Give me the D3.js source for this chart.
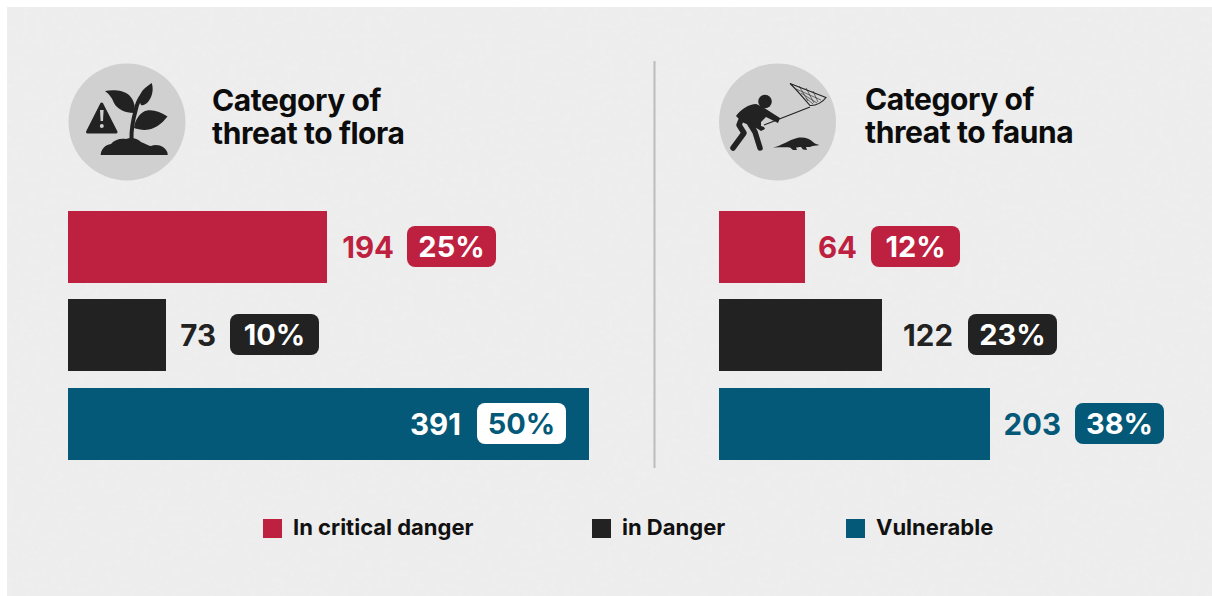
<!DOCTYPE html>
<html><head><meta charset="utf-8">
<script src="https://cdnjs.cloudflare.com/ajax/libs/d3/7.8.5/d3.min.js"></script>
<style>html,body{margin:0;padding:0;background:#fff}svg{display:block}
text{font-family:Inter,"Liberation Sans",sans-serif;font-weight:700}</style></head>
<body><div id="chart"></div>
<script>
const categories=["In critical danger","in Danger","Vulnerable"];
const floraValues=[194,73,391];
const floraPercent=["25%","10%","50%"];
const faunaValues=[64,122,203];
const faunaPercent=["12%","23%","38%"];
const colors=["#BE2140","#222222","#045878"];
const titles=[["Category of","threat to flora"],["Category of","threat to fauna"]];

const W=1212,H=596;
const svg=d3.select("#chart").append("svg").attr("width",W).attr("height",H);
const defs=svg.append("defs");
const f=defs.append("filter").attr("id","speck").attr("x",0).attr("y",0).attr("width","100%").attr("height","100%");
f.append("feTurbulence").attr("type","fractalNoise").attr("baseFrequency","0.14 0.18").attr("numOctaves",2).attr("seed",7);
f.append("feColorMatrix").attr("values","0 0 0 0 0.875  0 0 0 0 0.875  0 0 0 0 0.875  4 9 0 0 -7.0");
svg.append("rect").attr("x",7).attr("y",7).attr("width",W-7).attr("height",H-7).attr("fill","#ededed");
svg.append("rect").attr("x",7).attr("y",7).attr("width",W-7).attr("height",H-7).attr("filter","url(#speck)").attr("opacity",.55);

const x=d3.scaleLinear().domain([0,391]).range([0,521]);
const y=d3.scaleBand().domain(categories).range([211,460]).paddingInner(16.5/88.5).paddingOuter(0);

const panels=[
 {x0:68,values:floraValues,pct:floraPercent,cx:127,tx:212,ends:[67,50,-128],badge:[80,64,-112],ty:[111,144]},
 {x0:719,values:faunaValues,pct:faunaPercent,cx:777.5,tx:865,ends:[52,71,71],badge:[66,86,85],ty:[110,143]}
];
panels.forEach((p,pi)=>{
 const g=svg.append("g");
 g.append("circle").attr("cx",p.cx).attr("cy",122).attr("r",58.5).attr("fill","#d0d0d0");
 g.selectAll(".t").data(titles[pi]).join("text").attr("x",p.tx).attr("y",(d,i)=>p.ty[i])
  .attr("font-size",30).attr("letter-spacing",-.42).attr("fill","#0c0c0c").text(d=>d);
 categories.forEach((c,i)=>{
  const v=p.values[i],w=Math.ceil(x(v)),end=p.x0+w;
  const top=Math.floor(y(c));
  g.append("rect").attr("x",p.x0).attr("y",top).attr("width",w).attr("height",72).attr("fill",colors[i]);
  const inside=w>400;
  const cy=top+36;
  g.append("text").attr("x",end+p.ends[i]).attr("y",cy+10.5).attr("text-anchor","end").attr("font-size",29.5).attr("font-weight",800)
   .attr("fill",inside?"#fff":colors[i]).text(v);
  const bx=end+p.badge[i];
  g.append("rect").attr("x",bx).attr("y",cy-21).attr("width",89).attr("height",41).attr("rx",8)
   .attr("fill",inside?"#fff":colors[i]);
  g.append("text").attr("x",bx+44.5).attr("y",cy+10).attr("text-anchor","middle").attr("font-size",29)
   .attr("fill",inside?colors[i]:"#fff").text(p.pct[i]);
 });
});
svg.append("line").attr("x1",654.5).attr("x2",654.5).attr("y1",61).attr("y2",468).attr("stroke","#bcbcbc").attr("stroke-width",2);

// legend
const legendX=[263,592,846];
categories.forEach((c,i)=>{
 svg.append("rect").attr("x",legendX[i]).attr("y",519).attr("width",19).attr("height",19).attr("fill",colors[i]);
 svg.append("text").attr("x",legendX[i]+30).attr("y",535).attr("font-size",22).attr("fill","#111").text(c);
});

// flora icon
const ink="#222";
const fi=svg.append("g").attr("fill",ink);
fi.append("path").attr("stroke",ink).attr("stroke-width",3).attr("stroke-linejoin","round").attr("d","M101.7 104L87.5 132H116Z");
fi.append("path").attr("fill","#d0d0d0").attr("d","M100 110H103.6L103 121H100.6Z");
fi.append("circle").attr("cx",101.8).attr("cy",126).attr("r",2).attr("fill","#d0d0d0");
fi.append("path").attr("d","M100.7 155C101 149 105 145 111 144C114 140 120 138 126 139C131 137 137 138 141 142C146 144 149 146 151 146C155 144 160 145 163 147C166 149 168 152 167.7 155Z");
fi.append("path").attr("fill","none").attr("stroke",ink).attr("stroke-width",4).attr("d","M131.5 140C131 128 134 116 136 109C137 103 140 98 143 94");
fi.append("path").attr("d","M105 91C113 89.5 123 90 129 95C134 100 136 107 134 113C125 113 117 109 114 103C112 98 110 95 105 91Z");
fi.append("path").attr("d","M151.7 83C154 90 152 97 148 102C146 104 143 106 141 105C138 99 140 93 144 89C146 87 149 85 151.7 83Z");
fi.append("path").attr("d","M167.5 116.5C163 122 157 128 149 129.5C144 130.5 138 129.5 134 128C135 120 140 112 147 110.5C154 109.5 161 112 167.5 116.5Z");

// fauna icon
const an=svg.append("g").attr("fill",ink);
an.append("circle").attr("cx",765).attr("cy",101.5).attr("r",6.8);
an.append("path").attr("d","M736 116C741 109 749 104 756 104C760 105 772 113 780 118L778 123L766 117L761 122L761 126L764 127L765 129L761 131L758 129L749 125L744 123L741 121Z");
an.append("path").attr("fill","none").attr("stroke",ink).attr("stroke-width",5.5).attr("stroke-linecap","round").attr("stroke-linejoin","round").attr("d","M741 120L739 125L744 133L733 148");
an.append("path").attr("fill","none").attr("stroke",ink).attr("stroke-width",5.5).attr("stroke-linecap","round").attr("stroke-linejoin","round").attr("d","M750 124L755 132L760 148");
an.append("path").attr("fill","none").attr("stroke",ink).attr("stroke-width",1.2).attr("d","M764 125L810 107");
an.append("path").attr("fill","none").attr("stroke",ink).attr("stroke-width",1.1).attr("d","M790 83.5L826 97.5C823 102 816 106 810 105.5C806 101 797 90 790 83.5Z");
an.append("path").attr("fill","none").attr("stroke",ink).attr("stroke-width",.6).attr("d","M796 89L821 100M801 93L817 103M806 98L813 104M799 86L808 101M806 88L814 103M813 91L818 102");
an.append("path").attr("d","M773 147.5C781 146 789 140 797 138C804 136.5 810 139 813 142C815 144 817 144 819.5 145C816 146 812 145.5 810 147L806 147L807 150L803 149.5L801 147C799 147 798 147.5 796 147.5L797 150L793 150L790 147.5C785 147 779 147.5 773 147.5Z");
</script></body></html>
